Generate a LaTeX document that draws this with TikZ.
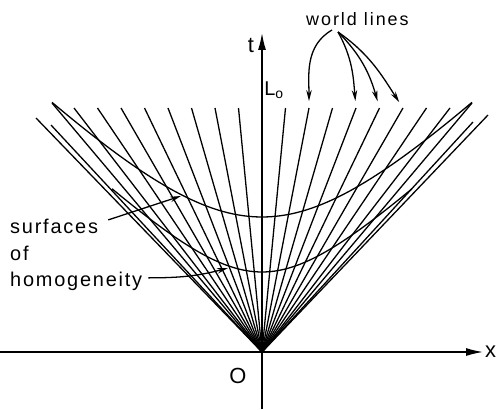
\documentclass[tikz,border=0pt]{standalone}
\usepackage{fontspec}
\setmainfont{Liberation Sans}
\usetikzlibrary{arrows.meta, positioning}

\begin{document}
\begin{tikzpicture}[
    x=1bp, y=1bp,
    wline/.style={line width=1.3pt},
    axis/.style={line width=1.4pt, -{Latex[length=17pt, width=8pt]}},
    pointer/.style={line width=1.3pt, -{Stealth[length=11pt, width=5.5pt]}},
    lbl/.style={font=\fontsize{20}{22}\selectfont\addfontfeature{LetterSpace=9}, inner sep=0pt},
    top/.style={font=\fontsize{18}{20}\selectfont\addfontfeature{LetterSpace=11}, inner sep=0pt},
    ax/.style={font=\fontsize{22}{24}\selectfont, inner sep=0pt}
]
    \useasboundingbox (-262,-57) rectangle (235,352);

    \coordinate (O) at (0,0);
    \coordinate (xl) at (-262,0);
    \coordinate (xr) at (221,0);
    \coordinate (tb) at (0,-57);
    \coordinate (tt) at (0,319);

    \foreach \k in {1,...,8} {
        \coordinate (r\k) at (23.5*\k, 244);
        \coordinate (l\k) at (-23.5*\k, 244);
        \draw[wline] (O) -- (r\k);
        \draw[wline] (O) -- (l\k);
    }

    \coordinate (ra) at (210,249);
    \coordinate (rb) at (211,230);
    \coordinate (rc) at (226,237);
    \coordinate (la) at (-210,249);
    \coordinate (lb) at (-211,227);
    \coordinate (lc) at (-226,234);
    \foreach \s in {ra,rb,rc,la,lb,lc}
        \draw[wline] (O) -- (\s);

    \draw[wline] plot[domain=-210:210, samples=80] (\x, {100*sqrt(1.8225+(\x/100)^2)});
    \draw[wline] plot[domain=-150:150, samples=60] (\x, {100*sqrt(0.64+0.9*(\x/100)^2)});

    \draw[axis] (xl) -- (xr);
    \draw[axis] (tb) -- (tt);

    \node[ax, anchor=west] (x) at (223,0) {x};
    \node[ax] (t) at (-11,307) {t};
    \node[ax] (o) at (-24,-24) {O};
    \node[lbl] (L) at (12,262) {L\textsubscript{o}};

    \node[top, anchor=base west] (wl) at (44,327) {world lines};
    \coordinate (s1) at (70,322);
    \coordinate (s2) at (76,320);
    \draw[pointer, shorten >=7pt] (s1) to[out=210, in=90] (r2);
    \draw[pointer, shorten >=7pt] (s2) to[out=-61, in=95] (r4);
    \draw[pointer, shorten >=7pt] (s2) to[out=-45, in=106] (r5);
    \draw[pointer, shorten >=7pt] (s2) to[out=-35, in=123] (r6);

    \node[lbl, anchor=base west] (surf) at (-252,119) {surfaces};
    \node[lbl, anchor=base west] (of) at (-252,92) {of};
    \node[lbl, anchor=base west] (homog) at (-252,66) {homogeneity};
    \coordinate (h1) at (-81,156);
    \coordinate (h2) at (-34,84);
    \draw[pointer] ([shift={(10,6)}]surf.east) -- (h1);
    \draw[pointer] ([shift={(6,3)}]homog.east) to[out=0, in=195] (h2);
\end{tikzpicture}
\end{document}
